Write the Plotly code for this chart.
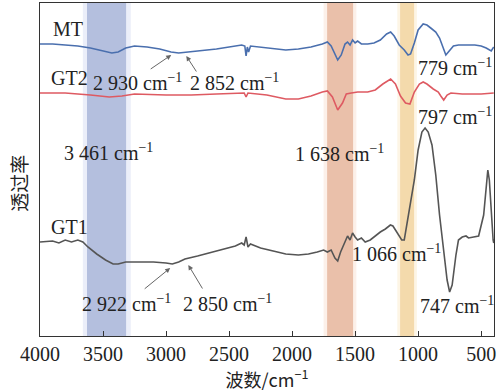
import plotly.graph_objects as go

# MT (blue)
mt_wn = [4000, 3900, 3800, 3700, 3600, 3500, 3430, 3380, 3320, 3250, 3150, 3050, 2960, 2900, 2840, 2750,
         2600, 2450, 2400, 2375, 2365, 2355, 2345, 2330, 2250, 2150, 2050, 1950, 1850, 1760, 1720, 1690,
         1660, 1638, 1610, 1580, 1560, 1540, 1520, 1500, 1480, 1450, 1400, 1350, 1300, 1250, 1218, 1190,
         1150, 1110, 1080, 1060, 1030, 1000, 960, 930, 900, 860, 830, 800, 780, 760, 720, 680, 600, 550,
         500, 460, 420, 400]
mt_t = [292, 292, 291, 290, 288, 285, 283, 284, 288, 290, 289, 287, 284, 283, 284, 285,
        287, 290, 291, 290, 280, 289, 284, 290, 289, 287, 286, 287, 289, 292, 294, 290,
        281, 276, 281, 292, 294, 291, 296, 293, 295, 292, 292, 293, 296, 302, 304, 300,
        291, 286, 281, 282, 293, 306, 312, 311, 308, 304, 298, 288, 281, 284, 290, 291, 291, 291,
        290, 288, 285, 289]

# GT2 (red)
gt2_wn = [4000, 3800, 3600, 3450, 3350, 3250, 3000, 2800, 2600, 2450, 2380, 2365, 2350, 2200, 2050, 1950,
          1850, 1760, 1720, 1680, 1638, 1600, 1570, 1530, 1480, 1400, 1340, 1280, 1218, 1180, 1140, 1100,
          1065, 1030, 990, 960, 930, 880, 840, 820, 797, 770, 740, 650, 500, 400]
gt2_t = [243, 243, 241, 239, 240, 242, 241, 241, 242, 243, 243, 239, 243, 241, 237, 237,
         240, 244, 245, 239, 226, 233, 242, 243, 244, 244, 246, 252, 257, 252, 240, 233,
         232, 244, 252, 254, 252, 247, 244, 240, 236, 241, 243, 242, 242, 243]

# GT1 (grey)
gt1_wn = [4000, 3900, 3850, 3800, 3750, 3700, 3660, 3620, 3550, 3480, 3420, 3380, 3320, 3200, 3100, 3000,
          2950, 2900, 2850, 2750, 2600, 2450, 2400, 2380, 2365, 2350, 2330, 2250, 2150, 2050, 1950, 1870,
          1800, 1750, 1720, 1690, 1660, 1638, 1615, 1590, 1560, 1540, 1520, 1500, 1480, 1450, 1420, 1380,
          1340, 1300, 1260, 1220, 1200, 1170, 1130, 1110, 1090, 1060, 1030, 1000, 970, 945, 920, 890,
          860, 830, 800, 770, 750, 730, 700, 680, 650, 620, 600, 560, 520, 480, 460, 447, 435, 420, 405, 400]
gt1_t = [94, 95, 93, 96, 94, 96, 94, 89, 82, 76, 72, 72, 74, 74, 74, 73,
         72, 74, 77, 80, 85, 90, 93, 91, 99, 89, 92, 88, 85, 82, 81, 82,
         84, 86, 84, 86, 78, 75, 84, 91, 100, 96, 103, 99, 96, 98, 94, 96,
         100, 104, 107, 111, 110, 104, 96, 96, 111, 131, 156, 186, 204, 208, 204, 191,
         161, 121, 86, 56, 44, 51, 81, 96, 99, 100, 98, 99, 100, 121, 151, 166, 156, 121, 96, 93]

x_ticks = [4000, 3500, 3000, 2500, 2000, 1500, 1000, 500]

# highlighted bands (wavenumber ranges)
bands = [
    ((3660, 3280), "rgba(230,234,247,0.8)"),
    ((3627, 3317), "rgb(180,191,222)"),
    ((1750, 1490), "rgba(251,236,228,0.8)"),
    ((1722, 1516), "rgb(234,192,170)"),
    ((1165, 1010), "rgba(252,242,222,0.8)"),
    ((1143, 1032), "rgb(244,218,172)"),
]

fig = go.Figure()
fig.add_trace(go.Scatter(x=mt_wn, y=mt_t, mode="lines", line=dict(color="#4a6fae", width=1.6),
                         name="MT", showlegend=False))
fig.add_trace(go.Scatter(x=gt2_wn, y=gt2_t, mode="lines", line=dict(color="#de5a62", width=1.6),
                         name="GT2", showlegend=False))
fig.add_trace(go.Scatter(x=gt1_wn, y=gt1_t, mode="lines", line=dict(color="#555555", width=1.6),
                         name="GT1", showlegend=False))

for (x0, x1), col in bands:
    fig.add_shape(type="rect", xref="x", yref="paper", x0=x0, x1=x1, y0=0, y1=1,
                  fillcolor=col, line=dict(width=0), layer="below")

serif = "Liberation Serif"
cjk = "Noto Sans CJK SC"
labels = [
    ("MT", 3775, 307),
    ("GT2", 3765, 258),
    ("2 930 cm<sup>−1</sup>", 3225, 254),
    ("2 852 cm<sup>−1</sup>", 2455, 254),
    ("3 461 cm<sup>−1</sup>", 3460, 184),
    ("1 638 cm<sup>−1</sup>", 1620, 183),
    ("779 cm<sup>−1</sup>", 705, 269),
    ("797 cm<sup>−1</sup>", 705, 220),
    ("GT1", 3765, 109),
    ("2 922 cm<sup>−1</sup>", 3310, 33),
    ("2 850 cm<sup>−1</sup>", 2515, 33),
    ("1 066 cm<sup>−1</sup>", 1170, 83),
    ("747 cm<sup>−1</sup>", 690, 31),
]
for txt, x, y in labels:
    fig.add_annotation(x=x, y=y, xref="x", yref="y", text=txt, showarrow=False,
                       font=dict(family=serif, size=20, color="#222"))

arrows = [
    (2959, 281, -22, 15),
    (2839, 280, 11, 17),
    (2967, 68, -27, 22),
    (2823, 71, 15, 25),
]
for x, y, ax, ay in arrows:
    fig.add_annotation(x=x, y=y, xref="x", yref="y", text="", showarrow=True,
                       ax=ax, ay=ay, arrowhead=2, arrowsize=1, arrowwidth=1, arrowcolor="#666")

# y-axis title
fig.add_annotation(x=-0.048, y=0.458, xref="paper", yref="paper", text="透过率", showarrow=False,
                   textangle=-90, xanchor="center", yanchor="middle",
                   font=dict(family=cjk, size=19, color="#222"))

fig.update_layout(
    width=497, height=392,
    margin=dict(l=40, r=3, t=3, b=56, autoexpand=False),
    plot_bgcolor="white", paper_bgcolor="white",
    font=dict(family=serif, size=20, color="#222"),
)
fig.update_xaxes(range=[4000, 398], tickvals=x_ticks, ticks="inside", ticklen=5, tickcolor="#333",
                 showline=True, linecolor="#333", linewidth=1.2, mirror=True, showgrid=False,
                 zeroline=False, automargin=False, tickfont=dict(family=serif, size=20, color="#222"),
                 title=dict(text="波数/cm<sup>−1</sup>", standoff=0,
                            font=dict(family=cjk, size=18, color="#222")))
fig.update_yaxes(range=[0, 333], showticklabels=False, ticks="", showline=True, linecolor="#333",
                 linewidth=1.2, mirror=True, showgrid=False, zeroline=False, automargin=False)

fig.write_html("out.html", config={"displayModeBar": False},
               post_script="document.body.style.margin='0';document.body.style.padding='0';")
